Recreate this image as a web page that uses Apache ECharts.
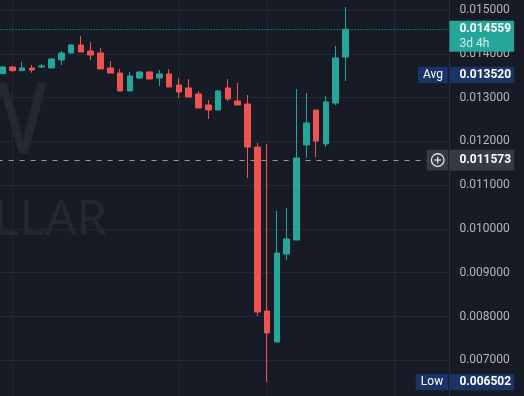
<!DOCTYPE html>
<html><head><meta charset="utf-8">
<script src="https://cdn.jsdelivr.net/npm/echarts@6/dist/echarts.min.js"></script>
<style>html,body{margin:0;padding:0;background:#171b26;}#c{width:524px;height:396px;}</style>
</head><body><div id="c"></div>
<script>
// 36 candles followed by 10 empty future slots
const categories = ['1','2','3','4','5','6','7','8','9','10','11','12','13','14','15','16','17','18','19','20',
  '21','22','23','24','25','26','27','28','29','30','31','32','33','34','35','36',
  '37','38','39','40','41','42','43','44','45','46'];
const opens  = [0.013545,0.013698,0.013614,0.013676,0.013698,0.013676,0.013858,0.014018,0.014201,0.014064,
  0.014018,0.013676,0.013561,0.013150,0.013447,0.013584,0.013447,0.013538,0.013287,0.013219,
  0.013082,0.012831,0.012716,0.013219,0.012922,0.012853,0.011871,0.008126,0.007418,0.009428,
  0.009748,0.011917,0.012716,0.011940,0.012876,0.013927];
const closes = [0.013698,0.013614,0.013676,0.013630,0.013721,0.013881,0.014018,0.014201,0.014041,0.013972,
  0.013653,0.013561,0.013150,0.013493,0.013584,0.013424,0.013538,0.013242,0.013127,0.013013,
  0.012762,0.012716,0.013150,0.012968,0.012831,0.011871,0.008103,0.007624,0.009451,0.009771,
  0.011620,0.012420,0.012008,0.012899,0.013904,0.014559];
const lows   = [0.013545,0.013591,0.013614,0.013568,0.013676,0.013676,0.013744,0.014018,0.014041,0.013858,
  0.013653,0.013561,0.013150,0.013150,0.013424,0.013424,0.013264,0.013242,0.012990,0.013013,
  0.012762,0.012511,0.012716,0.012922,0.012831,0.011163,0.008012,0.006502,0.007418,0.009291,
  0.009748,0.011620,0.011643,0.011871,0.012831,0.013379];
const highs  = [0.013721,0.013721,0.013813,0.013744,0.013767,0.013904,0.014064,0.014224,0.014406,0.014269,
  0.014132,0.013835,0.013653,0.013584,0.013607,0.013607,0.013630,0.013653,0.013447,0.013424,
  0.013150,0.012945,0.013173,0.013424,0.013333,0.013059,0.011963,0.011940,0.010410,0.010478,
  0.013196,0.013105,0.012716,0.013036,0.014178,0.015069];
const yMin = 0.006, yMax = 0.016, yStep = 0.001;
const lastPrice = 0.014559, countdown = '3d 4h';
const avgPrice = 0.013520, lowPrice = 0.006502, crossPrice = 0.011573;
const timeGridIdx = [1, 18, 27, 40];
const watermark = ['W', 'DOLLAR'];

const UP = '#26a69a', DOWN = '#ef5350', BG = '#171b26', GRID = '#242834';
const candleData = opens.map((o, i) => [o, closes[i], lows[i], highs[i]]);

const chart = echarts.init(document.getElementById('c'), null, {renderer: 'canvas'});
const gridRight = 75.6, yOffset = 1;
chart.setOption({
  backgroundColor: BG,
  animation: false,
  grid: {left: -2.4, right: gridRight, top: -33.8, bottom: -8.1, containLabel: false, outerBoundsMode: 'none'},
  xAxis: {type: 'category', data: categories, boundaryGap: true,
    axisLine: {show: false}, axisTick: {show: false}, axisLabel: {show: false}, splitLine: {show: false}},
  yAxis: {type: 'value', position: 'right', min: yMin, max: yMax, interval: yStep, offset: yOffset, scale: true,
    axisLine: {show: true, lineStyle: {color: '#2a2e39', width: 1}},
    axisTick: {show: false},
    axisLabel: {margin: 10, color: '#b2b5be', fontSize: 12, fontFamily: 'Roboto',
      formatter: v => v.toFixed(6)},
    splitLine: {show: true, lineStyle: {color: GRID, width: 1}}},
  series: [{
    type: 'candlestick', data: candleData, barWidth: 6,
    itemStyle: {color: UP, color0: DOWN, borderColor: UP, borderColor0: DOWN, borderWidth: 1},
    markLine: {
      silent: true, z: 1, precision: 6, symbol: ['none', 'none'], label: {show: false}, animation: false,
      emphasis: {disabled: true},
      data: timeGridIdx.map(i => ({xAxis: i, lineStyle: {color: GRID, width: 1, type: 'solid'}})).concat([
        {yAxis: lastPrice, lineStyle: {color: UP, width: 1, type: [1, 2]}},
        {yAxis: crossPrice, lineStyle: {color: '#9598a1', width: 1, type: [5, 6]}}
      ])
    }
  }]
});

// value labels on the price scale, placed with the library's own y scale
const ax = 524 - gridRight + yOffset;
const py = v => chart.convertToPixel({yAxisIndex: 0}, v);
const txt = (x, y, s, fill, font, align) => ({type: 'text', z: 101, silent: true,
  style: {x, y, text: s, fill, font, textAlign: align, align, textVerticalAlign: 'middle', verticalAlign: 'middle'}});
const rect = (x, y, w, h, fill) => ({type: 'rect', z: 100, silent: true, shape: {x, y, width: w, height: h}, style: {fill}});
const yL = py(lastPrice), yA = py(avgPrice), yC = py(crossPrice), yLo = py(lowPrice);
const BLUE = '#1a3468', GREY = '#363a45';
const VF = 'bold 12px Roboto', NF = '12px Roboto';
const g = [
  // watermark
  {type: 'text', z: -5, silent: true, style: {x: 48, y: 174, text: watermark[0], fill: 'rgba(255,255,255,0.06)',
    font: '98px "Noto Sans"', textAlign: 'right', align: 'right', textVerticalAlign: 'bottom', verticalAlign: 'bottom'}},
  {type: 'text', z: -5, silent: true, style: {x: 107, y: 246, text: watermark[1], fill: 'rgba(255,255,255,0.06)',
    font: '49px "Noto Sans"', textAlign: 'right', align: 'right', textVerticalAlign: 'bottom', verticalAlign: 'bottom'}},
  // last price
  rect(ax, yL - 8.6, 64.7, 31, UP),
  txt(ax + 10, yL, lastPrice.toFixed(6), '#ffffff', VF, 'left'),
  txt(ax + 10, yL + 14.5, countdown, 'rgba(255,255,255,0.78)', NF, 'left'),
  // avg
  rect(418, yA - 8.1, 29.7, 16.4, BLUE),
  txt(433, yA, 'Avg', '#ffffff', NF, 'center'),
  rect(ax, yA - 8.1, 64.7, 16.4, BLUE),
  txt(ax + 10, yA, avgPrice.toFixed(6), '#ffffff', VF, 'left'),
  // crosshair
  rect(426.7, yC - 10.3, 21.5, 20.7, GREY),
  {type: 'circle', z: 101, silent: true, shape: {cx: 437.7, cy: yC, r: 6.3}, style: {fill: 'none', stroke: '#e0e3eb', lineWidth: 1.3}},
  {type: 'line', z: 101, silent: true, shape: {x1: 434.4, y1: yC, x2: 441, y2: yC}, style: {stroke: '#e0e3eb', lineWidth: 1.3}},
  {type: 'line', z: 101, silent: true, shape: {x1: 437.7, y1: yC - 3.3, x2: 437.7, y2: yC + 3.3}, style: {stroke: '#e0e3eb', lineWidth: 1.3}},
  rect(ax, yC - 10.3, 64.7, 20.7, GREY),
  txt(ax + 10, yC, crossPrice.toFixed(6), '#ffffff', VF, 'left'),
  // low
  rect(415.7, yLo - 8.1, 32.6, 16.3, BLUE),
  txt(432, yLo, 'Low', '#ffffff', NF, 'center'),
  rect(ax, yLo - 8.1, 64.7, 16.3, BLUE),
  txt(ax + 10, yLo, lowPrice.toFixed(6), '#ffffff', VF, 'left')
];
chart.setOption({graphic: g});
</script>
</body></html>
